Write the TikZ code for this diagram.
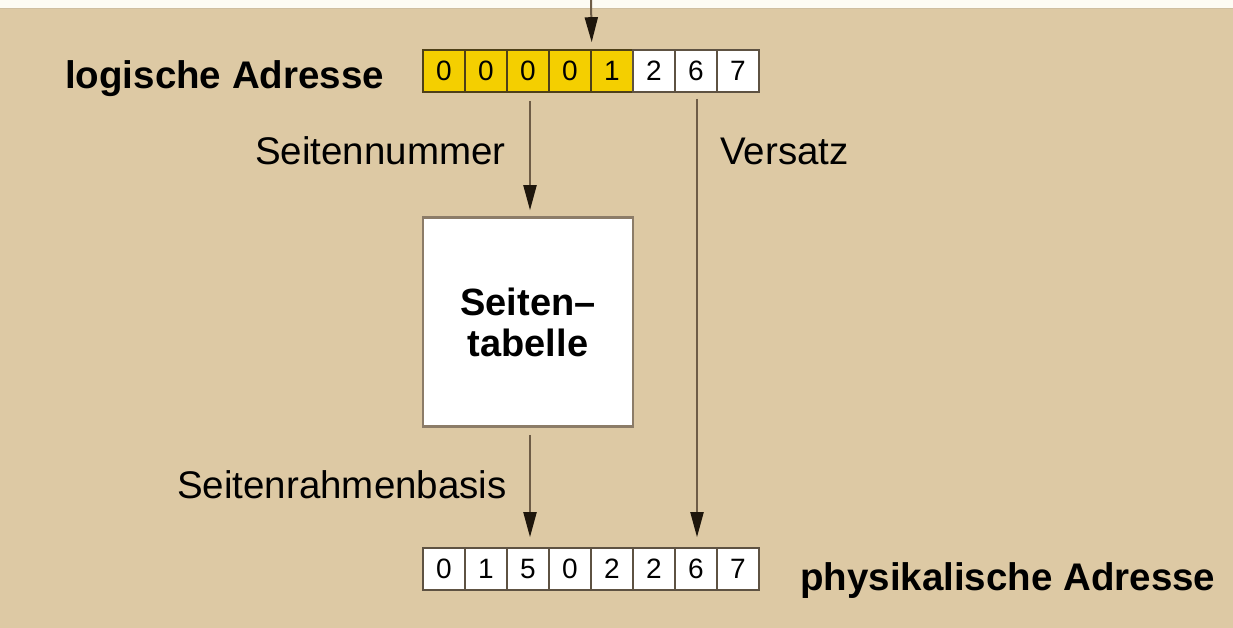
\documentclass[tikz,border=0pt]{standalone}
\usepackage{fontspec}
\setmainfont{Liberation Sans}
\usetikzlibrary{arrows.meta}
\definecolor{bg}{HTML}{DDC9A4}
\definecolor{topstrip}{HTML}{FDFBF3}
\definecolor{gold}{HTML}{F4CF00}
\definecolor{goldline}{HTML}{4E4018}
\definecolor{cellline}{HTML}{5E5242}
\definecolor{arrline}{HTML}{6E5C46}
\definecolor{arrtip}{HTML}{1E160C}
\definecolor{boxline}{HTML}{8C7C68}
\tikzset{
  cell/.style={draw=cellline, line width=1.6pt, fill=white, minimum width=42pt, minimum height=42pt, inner sep=0pt, font=\fontsize{28}{30}\selectfont},
  ycell/.style={cell, draw=goldline, fill=gold},
  lbl/.style={anchor=base west, inner sep=0pt, font=\fontsize{38.5}{42}\selectfont, text=black},
  blbl/.style={anchor=base west, inner sep=0pt, font=\fontsize{38.5}{42}\selectfont\bfseries, text=black},
  tabbox/.style={draw=boxline, line width=2.5pt, fill=white, minimum width=210pt, minimum height=209pt, inner sep=0pt, align=center, font=\fontsize{38}{42}\selectfont\bfseries},
  arr/.style={draw=arrline, line width=2pt, -{Triangle[length=25pt, width=13pt, color=arrtip]}}
}
\begin{document}
\begin{tikzpicture}[x=1pt, y=-1pt]
\useasboundingbox (0,0) rectangle (1233,628);
\fill[bg] (0,0) rectangle (1233,628);
\fill[topstrip] (0,0) rectangle (1233,8);
\draw[color=bg!85!gray, line width=1pt] (0,8.5) -- (1233,8.5);

% logical address
\node[ycell] (l1) at (444,71) {0};
\node[ycell] (l2) at (486,71) {0};
\node[ycell] (l3) at (528,71) {0};
\node[ycell] (l4) at (570,71) {0};
\node[ycell] (l5) at (612,71) {1};
\node[cell] (l6) at (654,71) {2};
\node[cell] (l7) at (696,71) {6};
\node[cell] (l8) at (738,71) {7};

% physical address
\node[cell] (p1) at (444,569) {0};
\node[cell] (p2) at (486,569) {1};
\node[cell] (p3) at (528,569) {5};
\node[cell] (p4) at (570,569) {0};
\node[cell] (p5) at (612,569) {2};
\node[cell] (p6) at (654,569) {2};
\node[cell] (p7) at (696,569) {6};
\node[cell] (p8) at (738,569) {7};

% page table
\node[tabbox] (tab) at (528,322) {Seiten–\\[-1pt]tabelle};

% labels
\node[blbl] (la) at (65,89) {logische Adresse};
\node[blbl] (pa) at (800,590) {physikalische Adresse};
\node[lbl] (sn) at (255,165) {Seitennummer};
\node[lbl] (vs) at (720,165) {Versatz};
\node[lbl] (srb) at (177,498) {Seitenrahmenbasis};

% arrows
\coordinate (src) at (591,0);
\draw[arr, shorten >=7pt] (src) -- (l4.north east);
\draw[arr, shorten <=8pt, shorten >=6pt] ([xshift=2pt]l3.south) -- ([xshift=2pt]l3.south |- tab.north);
\draw[arr, shorten <=6pt, shorten >=10pt] ([xshift=1pt]l7.south) -- ([xshift=1pt]p7.north);
\draw[arr, shorten <=7pt, shorten >=10pt] ([xshift=2pt]tab.south) -- ([xshift=2pt]p3.north);
\end{tikzpicture}
\end{document}
